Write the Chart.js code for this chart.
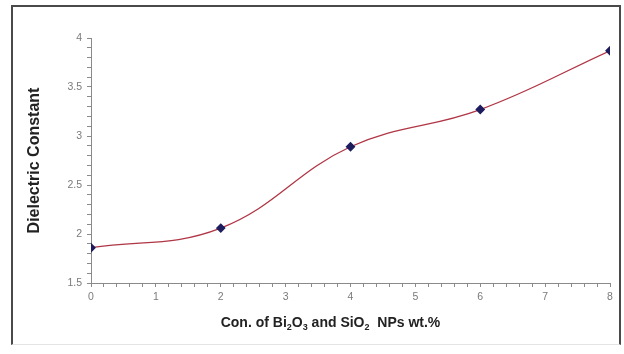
<!DOCTYPE html>
<html lang="en">

<head>
    <meta charset="UTF-8">
    <title>Dielectric Constant</title>
    <script src="https://cdn.jsdelivr.net/npm/chart.js"></script>
</head>

<body>
    <div class="frame"></div>
    <div class="chart-container"><canvas id="dielectricChart" width="624" height="354"></canvas></div>
</body>

</html>

<script>
    // concentration (wt.%) and the measured dielectric constant
    const concentrations = [0, 2, 4, 6, 8];
    const dielectricValues = [1.86, 2.06, 2.89, 3.27, 3.87];

    // x title pieces, true = subscript
    const xTitleParts = [
        ["Con. of Bi", false], ["2", true], ["O", false], ["3", true],
        [" and SiO", false], ["2", true], ["  NPs wt.%", false]
    ];
    const yTitle = "Dielectric Constant";

    const points = concentrations.map((c, i) => ({ x: c, y: dielectricValues[i] }));

    // labels only on the major ticks, minor ones stay blank
    function yLabel(v) {
        return Math.abs(v * 2 - Math.round(v * 2)) < 1e-6 ? String(Math.round(v * 2) / 2) : "";
    }
    function xLabel(v) {
        return Math.abs(v - Math.round(v)) < 1e-6 ? String(Math.round(v)) : "";
    }

    // draws the x title with real subscripts (the built-in title can't)
    const subscriptTitle = {
        id: "subscriptTitle",
        afterDraw(chart) {
            const c = chart.ctx;
            const area = chart.chartArea;
            const big = "bold 14px Arial";
            const small = "bold 9px Arial";
            let total = 0;
            xTitleParts.forEach(([t, sub]) => {
                c.font = sub ? small : big;
                total += c.measureText(t).width;
            });
            let x = (area.left + area.right) / 2 - 20 - total / 2;
            const y = area.bottom + 44;
            c.save();
            c.fillStyle = "#222";
            c.textBaseline = "alphabetic";
            c.textAlign = "left";
            xTitleParts.forEach(([t, sub]) => {
                c.font = sub ? small : big;
                c.fillText(t, x, sub ? y + 3 : y);
                x += c.measureText(t).width;
            });
            c.restore();
        }
    };

    const ctx = document.getElementById("dielectricChart").getContext("2d");
    new Chart(ctx, {
        type: "line",
        data: {
            datasets: [{
                data: points,
                borderColor: "#b03545",
                borderWidth: 1.3,
                tension: 0.4,
                pointStyle: "rectRot",
                pointRadius: 4,
                pointBackgroundColor: "#1c1c5e",
                pointBorderColor: "#1c1c5e",
                fill: false
            }]
        },
        options: {
            responsive: false,
            animation: false,
            layout: { padding: { top: 38, right: 14, bottom: 0, left: 0 } },
            plugins: {
                legend: { display: false },
                tooltip: { enabled: false }
            },
            scales: {
                x: {
                    type: "linear",
                    min: 0,
                    max: 8,
                    afterFit: s => { s.height = 71; },
                    ticks: {
                        stepSize: 0.2,
                        autoSkip: false,
                        maxRotation: 0,
                        color: "#7a7a7a",
                        font: { family: "Arial", size: 10.5 },
                        padding: 4,
                        callback: xLabel
                    },
                    grid: { drawOnChartArea: false, tickLength: 4, color: "#8a8a8a" },
                    border: { color: "#8a8a8a" }
                },
                y: {
                    min: 1.5,
                    max: 4,
                    afterFit: s => { s.width = 91; },
                    ticks: {
                        stepSize: 0.1,
                        autoSkip: false,
                        color: "#7a7a7a",
                        font: { family: "Arial", size: 10.5 },
                        padding: 5,
                        callback: yLabel
                    },
                    grid: { drawOnChartArea: false, tickLength: 4, color: "#8a8a8a" },
                    border: { color: "#8a8a8a" },
                    title: {
                        display: true,
                        text: yTitle,
                        color: "#222",
                        font: { family: "Arial", size: 16, weight: "bold" },
                        padding: { top: 25, bottom: 0 }
                    }
                }
            }
        },
        plugins: [subscriptTitle]
    });
</script>

<style>
    body {
        margin: 0;
        background: white;
    }

    .chart-container {
        position: absolute;
        left: 0;
        top: 0;
        width: 624px;
        height: 354px;
    }

    .frame {
        position: absolute;
        left: 11px;
        top: 5px;
        width: 606px;
        height: 337px;
        border: 2px solid #4a4a4a;
        border-bottom: 1px solid #e4e4e4;
    }
</style>
